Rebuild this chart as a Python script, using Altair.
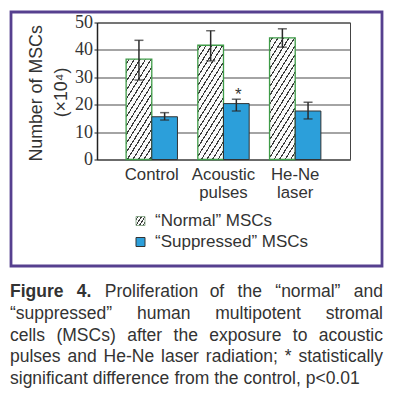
import math
import pandas as pd
import altair as alt

# ---------------- data ----------------
groups = ["Control", "Acoustic pulses", "He-Ne laser"]
series = ["Normal", "Suppressed"]
normal_mean = [36.6, 41.7, 44.4]
normal_lo = [29.0, 36.0, 41.0]
normal_hi = [43.5, 47.0, 47.7]
supp_mean = [15.6, 20.4, 17.7]
supp_lo = [14.4, 17.7, 14.8]
supp_hi = [17.1, 22.0, 20.9]
supp_sig = ["", "*", ""]
y_ticks = [0, 10, 20, 30, 40, 50]
y_title = ["Number of MSCs", "(×10⁴)"]
legend_labels = ["“Normal” MSCs", "“Suppressed” MSCs"]
caption_lines = [
    "Figure 4. Proliferation of the “normal” and",
    "“suppressed” human multipotent stromal",
    "cells (MSCs) after the exposure to acoustic",
    "pulses and He-Ne laser radiation; * statistically",
    "significant difference from the control, p<0.01",
]
caption_bold = ["Figure", "4."]

# ---------------- layout ----------------
PL, PT = 97.0, 22.5          # plot origin in page coords
W, H = 253, 137              # plot area
CW, CH = 377, 382            # canvas
P_INNER, P_OUTER = 0.284, 0.406
YMAX = 50
TXT = "#333333"
PURPLE = "#56408f"
GREEN = "#3f9c48"
BLUE = "#2c9fda"
SANS = "Liberation Sans, Arial, sans-serif"
SERIF = "Liberation Serif, Times New Roman, DejaVu Serif, serif"


def vx(p):
    return p - PL


def vy(p):
    return p - PT


def hatch(w, h, k=1.6, sp=4.7, th=1.1, bg="#fafafa", fg="#3a3a3a"):
    """Diagonal '///' stripes as a hard-stop linear gradient in bbox units."""
    D = (k * w + h) / math.sqrt(1 + k * k)
    c = (k * w + h) / (k * k * w * w + h * h)
    p, d = sp / D, th / D
    stops = [alt.GradientStop(offset=0, color=bg)]
    t = p * 0.4
    while t < 1:
        a, b = t, min(t + d, 1)
        stops += [alt.GradientStop(offset=a, color=bg), alt.GradientStop(offset=a, color=fg),
                  alt.GradientStop(offset=b, color=fg), alt.GradientStop(offset=b, color=bg)]
        t += p
    stops.append(alt.GradientStop(offset=1, color=bg))
    return alt.LinearGradient(gradient="linear", stops=stops, x1=0, y1=0, x2=c * k * w, y2=c * h)


rows = []
for i, g in enumerate(groups):
    rows.append(dict(group=g, series="Normal", value=normal_mean[i], lo=normal_lo[i], hi=normal_hi[i], sig=""))
    rows.append(dict(group=g, series="Suppressed", value=supp_mean[i], lo=supp_lo[i], hi=supp_hi[i], sig=supp_sig[i]))
df = pd.DataFrame(rows)

xenc = alt.X("group:N", sort=groups, title=None,
             scale=alt.Scale(paddingInner=P_INNER, paddingOuter=P_OUTER),
             axis=alt.Axis(labelExpr="split(datum.label, ' ')", labelAngle=0, ticks=False,
                           labelPadding=7, labelFont=SANS, labelFontSize=16.8, labelColor=TXT,
                           labelLineHeight=17.5, domainColor="#6b6b6b", domainWidth=2, grid=False))
xoff = alt.XOffset("series:N", sort=series, scale=alt.Scale(domain=series, paddingInner=0, paddingOuter=0))
yscale = alt.Scale(domain=[0, YMAX])
yaxis = alt.Axis(values=y_ticks, title=None, grid=True, gridColor="#4a4a4a", gridWidth=1.1,
                 domainColor="#222222", domainWidth=1.5, tickColor="#222222", tickSize=3,
                 labelFont=SERIF, labelFontSize=18, labelColor=TXT, labelPadding=1.5)

base = alt.Chart(df)

step = W / (len(groups) - P_INNER + 2 * P_OUTER)
bar_w = step * (1 - P_INNER) / 2

layers = []
# hatched "normal" bars, one gradient per bar (depends on its pixel size)
for i, g in enumerate(groups):
    hpx = normal_mean[i] / YMAX * H
    layers.append(
        base.transform_filter((alt.datum.group == g) & (alt.datum.series == "Normal"))
        .mark_bar(color=hatch(bar_w, hpx), stroke=GREEN, strokeWidth=1.3)
        .encode(x=xenc, xOffset=xoff, y=alt.Y("value:Q", scale=yscale, axis=yaxis))
    )
# blue "suppressed" bars
layers.append(
    base.transform_filter(alt.datum.series == "Suppressed")
    .mark_bar(color=BLUE, stroke="#333333", strokeWidth=1)
    .encode(x=xenc, xOffset=xoff, y=alt.Y("value:Q", scale=yscale, axis=yaxis))
)
# error bars
layers.append(
    base.mark_rule(color="#2a2a2a", strokeWidth=1.5)
    .encode(x=xenc, xOffset=xoff, y=alt.Y("lo:Q", scale=yscale, axis=yaxis), y2="hi:Q")
)
for col in ["lo", "hi"]:
    layers.append(
        base.mark_tick(color="#2a2a2a", thickness=1.5, size=9)
        .encode(x=xenc, xOffset=xoff, y=alt.Y(f"{col}:Q", scale=yscale, axis=yaxis))
    )
# significance star
layers.append(
    base.transform_filter(alt.datum.sig != "")
    .mark_text(font=SANS, fontSize=17, color=TXT, baseline="alphabetic", dy=1, dx=2)
    .encode(x=xenc, xOffset=xoff, y=alt.Y("hi:Q", scale=yscale, axis=yaxis), text="sig:N")
)

# purple frame around figure
layers.append(
    alt.Chart(pd.DataFrame({"a": [0]})).mark_rect(fillOpacity=0, stroke=PURPLE, strokeWidth=2.8)
    .encode(x=alt.value(vx(11)), x2=alt.value(vx(382)), y=alt.value(vy(12)), y2=alt.value(vy(266)))
)

# y title (two rotated lines)
ytdf = pd.DataFrame({"t": y_title, "px": [vx(36.7), vx(61.7)], "py": [vy(93.4), vy(92.5)]})
layers.append(
    alt.Chart(ytdf).mark_text(font=SANS, fontSize=17.8, color=TXT, angle=270, align="center", baseline="middle")
    .encode(x=alt.X("px:Q", scale=None, axis=None), y=alt.Y("py:Q", scale=None, axis=None), text="t:N")
)

# legend
layers.append(
    alt.Chart(pd.DataFrame({"a": [0]})).mark_rect(color=hatch(9, 9, sp=3.0, th=1.0), stroke="#7aa07a", strokeWidth=0.8)
    .encode(x=alt.value(vx(136)), x2=alt.value(vx(145)), y=alt.value(vy(216.5)), y2=alt.value(vy(225.5)))
)
layers.append(
    alt.Chart(pd.DataFrame({"a": [0]})).mark_rect(color=BLUE, stroke="#333333", strokeWidth=1)
    .encode(x=alt.value(vx(136)), x2=alt.value(vx(145)), y=alt.value(vy(237.5)), y2=alt.value(vy(246.5)))
)
ldf = pd.DataFrame({"t": legend_labels, "px": [vx(155), vx(155)], "py": [vy(226), vy(246.5)]})
layers.append(
    alt.Chart(ldf).mark_text(font=SANS, fontSize=17, color=TXT, align="left", baseline="alphabetic")
    .encode(x=alt.X("px:Q", scale=None, axis=None), y=alt.Y("py:Q", scale=None, axis=None), text="t:N")
)

# caption: justified words (Arial/Liberation Sans advance widths)
AW = {" ": 278, "“": 333, "”": 333, "(": 333, ")": 333, "*": 389, ",": 278, "-": 333, ".": 278,
      ";": 278, "<": 584, "C": 722, "F": 611, "H": 722, "M": 833, "N": 722, "S": 667,
      "a": 556, "b": 556, "c": 500, "d": 556, "e": 556, "f": 278, "g": 556, "h": 556, "i": 222,
      "l": 222, "m": 833, "n": 556, "o": 556, "p": 556, "r": 333, "s": 500, "t": 278, "u": 556,
      "x": 500, "y": 500, "w": 722, "k": 500, "v": 500, "1": 556, "0": 556, "4": 556}
AWB = dict(AW, **{"F": 611, "i": 278, "g": 611, "u": 611, "r": 389, "e": 556})
CFS = 17.5
C_LEFT, C_RIGHT = 10.0, 383.0
baselines = [296.7, 318.6, 340.5, 362.4, 384.3]


def tw(s, bold):
    tab = AWB if bold else AW
    return sum(tab.get(ch, 556) for ch in s) * CFS / 1000


cap_rows = []
for li, line in enumerate(caption_lines):
    words = line.split(" ")
    bolds = [li == 0 and wi < len(caption_bold) for wi in range(len(words))]
    widths = [tw(w_, b) for w_, b in zip(words, bolds)]
    if li < len(caption_lines) - 1:
        gap = (C_RIGHT - C_LEFT - sum(widths)) / (len(words) - 1)
    else:
        gap = AW[" "] * CFS / 1000
    xpos = C_LEFT
    for w_, b, wd in zip(words, bolds, widths):
        cap_rows.append(dict(t=w_, px=vx(xpos), py=vy(baselines[li]), bold=b))
        xpos += wd + gap
cdf = pd.DataFrame(cap_rows)
for b, weight in [(False, "normal"), (True, "bold")]:
    layers.append(
        alt.Chart(cdf[cdf.bold == b]).mark_text(font=SANS, fontSize=CFS, fontWeight=weight, color=TXT,
                                               align="left", baseline="alphabetic")
        .encode(x=alt.X("px:Q", scale=None, axis=None), y=alt.Y("py:Q", scale=None, axis=None), text="t:N")
    )

chart = (
    alt.layer(*layers)
    .properties(width=W, height=H, background="white",
                autosize=alt.AutoSizeParams(type="none"),
                padding={"left": PL - 8, "top": PT - 8, "right": CW - (PL - 8) - W, "bottom": CH - (PT - 8) - H})
    .configure_view(stroke="#444444", strokeWidth=1)
    .configure_axisY(labelFont=SERIF, labelFontSize=18)
)

chart.save("out.html", embed_options={"renderer": "svg", "actions": False})
